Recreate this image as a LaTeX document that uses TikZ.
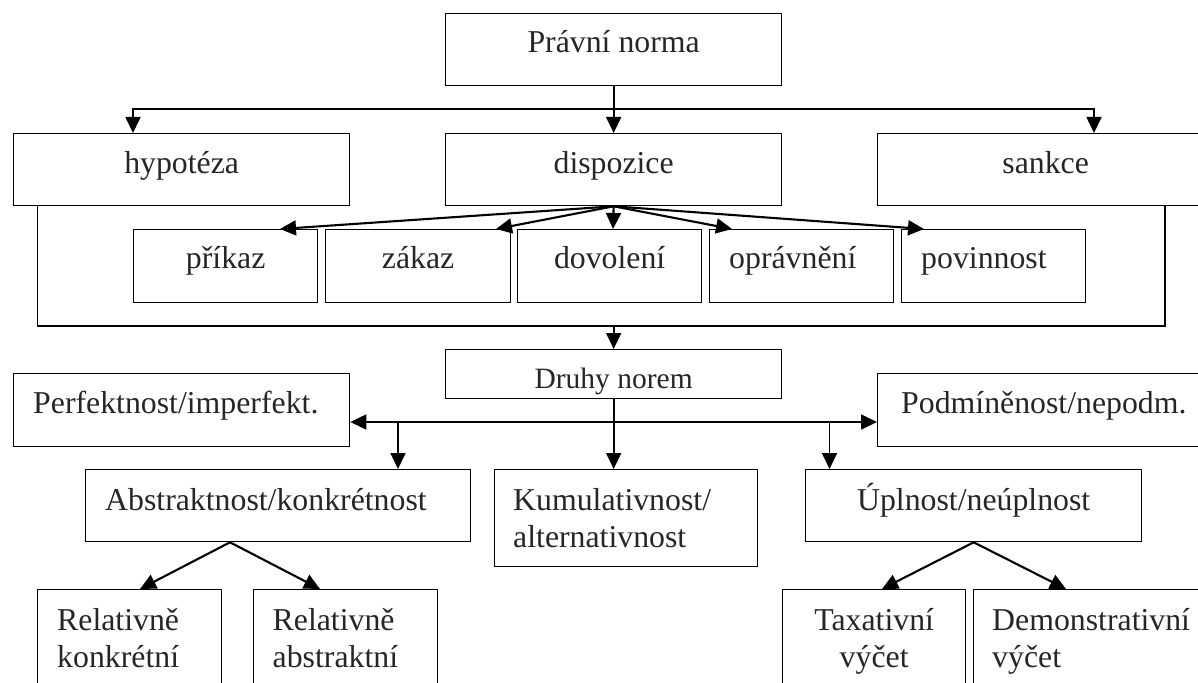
\documentclass[tikz,border=0pt]{standalone}
\usepackage{fontspec}
\setmainfont{Liberation Serif}
\usetikzlibrary{arrows.meta}
\newcommand\fmain{\fontsize{31.8}{37}\selectfont}
\newcommand\fsmall{\fontsize{29.5}{35}\selectfont}
\tikzset{
  boxnode/.style={draw, line width=1.3pt, rectangle, inner sep=0pt, anchor=north west},
  txt/.style={font=\fmain, inner sep=0pt, text=black!85},
  conn/.style={line width=1.4pt},
  arr/.style={line width=1.7pt, -{Triangle[length=16pt,width=15pt]}},
  darr/.style={line width=2.1pt, -{Triangle[length=16pt,width=15pt]}},
}
\begin{document}
\begin{tikzpicture}[x=1pt,y=-1pt]
\useasboundingbox (0,0) rectangle (1198,682);
\clip (0,0) rectangle (1198,682);

% ---- boxes ----
\node[boxnode, minimum width=336pt, minimum height=72pt] (pn) at (445,13) {};
\node[boxnode, minimum width=336pt, minimum height=72pt] (hyp) at (13,133) {};
\node[boxnode, minimum width=336pt, minimum height=72pt] (disp) at (445,133) {};
\node[boxnode, minimum width=336pt, minimum height=72pt] (sank) at (877,133) {};
\node[boxnode, minimum width=184pt, minimum height=73pt] (prikaz) at (133,229) {};
\node[boxnode, minimum width=185pt, minimum height=73pt] (zakaz) at (325,229) {};
\node[boxnode, minimum width=184pt, minimum height=73pt] (dovol) at (517,229) {};
\node[boxnode, minimum width=184pt, minimum height=73pt] (oprav) at (709,229) {};
\node[boxnode, minimum width=184pt, minimum height=73pt] (povin) at (901,229) {};
\node[boxnode, minimum width=336pt, minimum height=49pt] (dn) at (445,349) {};
\node[boxnode, minimum width=336pt, minimum height=73pt] (perf) at (13,373) {};
\node[boxnode, minimum width=336pt, minimum height=73pt] (podm) at (877,373) {};
\node[boxnode, minimum width=385pt, minimum height=72pt] (abs) at (85,469) {};
\node[boxnode, minimum width=263pt, minimum height=97pt] (kum) at (494,469) {};
\node[boxnode, minimum width=336pt, minimum height=72pt] (upl) at (805,469) {};
\node[boxnode, minimum width=184pt, minimum height=120pt] (rk) at (37,589) {};
\node[boxnode, minimum width=184pt, minimum height=120pt] (ra) at (253,589) {};
\node[boxnode, minimum width=183pt, minimum height=120pt] (tax) at (782,589) {};
\node[boxnode, minimum width=250pt, minimum height=120pt] (dem) at (973,589) {};

% ---- texts ----
\node[txt, anchor=base] (t-pn) at ([yshift=-40pt]pn.north) {Právní norma};
\node[txt, anchor=base] (t-hyp) at ([yshift=-40pt]hyp.north) {hypotéza};
\node[txt, anchor=base] (t-disp) at ([yshift=-40pt]disp.north) {dispozice};
\node[txt, anchor=base] (t-sank) at ([yshift=-40pt]sank.north) {sankce};
\node[txt, anchor=base] (t-prikaz) at ([yshift=-39pt]prikaz.north) {příkaz};
\node[txt, anchor=base] (t-zakaz) at ([yshift=-39pt]zakaz.north) {zákaz};
\node[txt, anchor=base] (t-dovol) at ([yshift=-39pt]dovol.north) {dovolení};
\node[txt, anchor=base west] (t-oprav) at ([xshift=20pt,yshift=-39pt]oprav.north west) {oprávnění};
\node[txt, anchor=base west] (t-povin) at ([xshift=20pt,yshift=-39pt]povin.north west) {povinnost};
\node[txt, font=\fsmall, anchor=base] (t-dn) at ([yshift=-39pt]dn.north) {Druhy norem};
\node[txt, anchor=base west] (t-perf) at ([xshift=20pt,yshift=-40pt]perf.north west) {Perfektnost/imperfekt.};
\node[txt, anchor=base west] (t-podm) at ([xshift=24pt,yshift=-40pt]podm.north west) {Podmíněnost/nepodm.};
\node[txt, anchor=base west] (t-abs) at ([xshift=20pt,yshift=-41pt]abs.north west) {Abstraktnost/konkrétnost};
\node[txt, anchor=base west] (t-kum1) at ([xshift=19pt,yshift=-41pt]kum.north west) {Kumulativnost/};
\node[txt, anchor=base west] (t-kum2) at ([xshift=19pt,yshift=-78pt]kum.north west) {alternativnost};
\node[txt, anchor=base] (t-upl) at ([yshift=-41pt]upl.north) {Úplnost/neúplnost};
\node[txt, anchor=base west] (t-rk1) at ([xshift=20pt,yshift=-41pt]rk.north west) {Relativně};
\node[txt, anchor=base west] (t-rk2) at ([xshift=20pt,yshift=-78pt]rk.north west) {konkrétní};
\node[txt, anchor=base west] (t-ra1) at ([xshift=19.5pt,yshift=-41pt]ra.north west) {Relativně};
\node[txt, anchor=base west] (t-ra2) at ([xshift=19.5pt,yshift=-78pt]ra.north west) {abstraktní};
\node[txt, anchor=base] (t-tax1) at ([yshift=-41pt]tax.north) {Taxativní};
\node[txt, anchor=base] (t-tax2) at ([yshift=-78pt]tax.north) {výčet};
\node[txt, anchor=base west] (t-dem1) at ([xshift=19pt,yshift=-41pt]dem.north west) {Demonstrativní};
\node[txt, anchor=base west] (t-dem2) at ([xshift=19pt,yshift=-78pt]dem.north west) {výčet};

% ---- connectors: top level ----
\coordinate (j1) at (613,109);
\draw[arr] (pn.south) -- (disp.north);
\draw[arr] (j1) -| ([xshift=120pt]hyp.north west);
\draw[arr] (j1) -| ([xshift=217pt]sank.north west);

% ---- dispozice fan ----
\draw[darr] (disp.south) -- ([xshift=147pt]prikaz.north west);
\draw[darr] (disp.south) -- ([xshift=171pt]zakaz.north west);
\draw[darr] (disp.south) -- ([xshift=96pt]dovol.north west);
\draw[darr] (disp.south) -- ([xshift=23pt]oprav.north west);
\draw[darr] (disp.south) -- ([xshift=23pt]povin.north west);

% ---- bracket ----
\coordinate (bl) at (37.5,326);
\coordinate (br) at (1165,326);
\draw[conn] (hyp.south -| bl) -- (bl) -- (br) -- (sank.south -| br);
\draw[arr] (bl -| dn.north) -- (dn.north);

% ---- druhy norem ----
\coordinate (j2) at (613,422);
\coordinate (ba) at (398,422);
\coordinate (bu) at (829.5,422);
\draw[arr] (dn.south) -- (dn.south |- kum.north);
\draw[arr] (j2) -- (j2 -| perf.east);
\draw[arr] (j2) -- (j2 -| podm.west);
\draw[arr] (ba) -- (ba |- abs.north);
\draw[arr] (bu) -- (bu |- upl.north);

% ---- lower trees ----
\coordinate (aa) at ([xshift=145pt]abs.south west);
\draw[darr] (aa) -- ([xshift=103pt]rk.north west);
\draw[darr] (aa) -- ([xshift=67pt]ra.north west);
\draw[darr] (upl.south) -- ([xshift=100pt]tax.north west);
\draw[darr] (upl.south) -- ([xshift=93pt]dem.north west);
\end{tikzpicture}
\end{document}
